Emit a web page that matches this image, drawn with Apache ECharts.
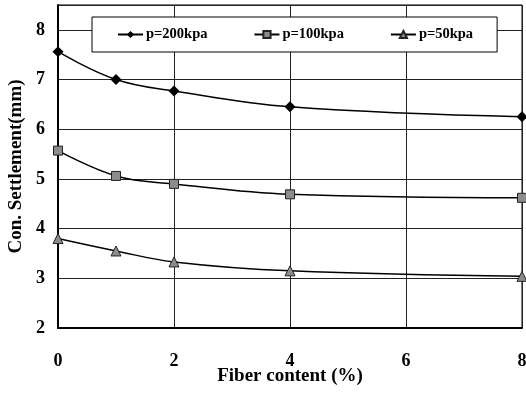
<!DOCTYPE html>
<html>
<head>
<meta charset="utf-8">
<script src="https://cdn.jsdelivr.net/npm/echarts@6/dist/echarts.min.js"></script>
<style>
  html, body { margin: 0; padding: 0; background: #fff; }
  #chart { width: 526px; height: 395px; }
</style>
</head>
<body>
<div id="chart"></div>
<script>
  var fiber = [0, 1, 2, 4, 8];
  var p200 = [7.56, 7.0, 6.77, 6.45, 6.25];
  var p100 = [5.57, 5.06, 4.9, 4.69, 4.62];
  var p50 = [3.80, 3.55, 3.33, 3.15, 3.04];
  var names = ['p=200kpa', 'p=100kpa', 'p=50kpa'];

  function pairs(ys) {
    return fiber.map(function (x, i) { return [x, ys[i]]; });
  }

  var font = '"Liberation Serif", "Times New Roman", serif';
  var chart = echarts.init(document.getElementById('chart'));
  var option = {
    animation: false,
    backgroundColor: '#fff',
    textStyle: { fontFamily: font },
    grid: {
      left: 58, right: 4, top: 5, bottom: 67,
      outerBoundsMode: 'none',
      show: true, borderColor: '#000', borderWidth: 1
    },
    legend: {
      left: 92, top: 17,
      padding: [10, 24, 10, 25],
      itemGap: 46,
      itemWidth: 25, itemHeight: 9,
      borderColor: '#000', borderWidth: 1,
      backgroundColor: '#fff',
      textStyle: { fontFamily: font, fontWeight: 'bold', fontSize: 14.5, color: '#000', padding: [0, 0, 0, -2] },
      data: names
    },
    xAxis: {
      type: 'value', min: 0, max: 8, interval: 2,
      name: 'Fiber content (%)', nameLocation: 'middle', nameGap: 39,
      nameMoveOverlap: false,
      nameTextStyle: { fontFamily: font, fontWeight: 'bold', fontSize: 19, color: '#000' },
      axisLine: { lineStyle: { color: '#000', width: 2 } },
      axisTick: { show: false },
      axisLabel: { margin: 24, fontFamily: font, fontWeight: 'bold', fontSize: 18, color: '#000' },
      splitLine: { show: true, lineStyle: { color: '#222', width: 1 } }
    },
    yAxis: {
      type: 'value', min: 2, max: 8.5, interval: 1,
      name: 'Con. Settlement(mm)', nameLocation: 'middle', nameGap: 32,
      nameMoveOverlap: false,
      nameTextStyle: { fontFamily: font, fontWeight: 'bold', fontSize: 19, color: '#000' },
      axisLine: { show: true, lineStyle: { color: '#000', width: 2 } },
      axisTick: { show: false },
      axisLabel: {
        margin: 13, fontFamily: font, fontWeight: 'bold', fontSize: 18, color: '#000',
        formatter: function (v) { return v % 1 === 0 ? v : ''; }
      },
      splitLine: { show: true, lineStyle: { color: '#222', width: 1 } }
    },
    series: [
      {
        name: names[0], type: 'line', smooth: 0.4,
        symbol: 'diamond', symbolSize: 11,
        itemStyle: { color: '#000' },
        lineStyle: { color: '#000', width: 1.5 },
        data: pairs(p200)
      },
      {
        name: names[1], type: 'line', smooth: 0.4,
        symbol: 'rect', symbolSize: 9,
        itemStyle: { color: '#8c8c8c', borderColor: '#222', borderWidth: 1 },
        lineStyle: { color: '#000', width: 1.5 },
        data: pairs(p100)
      },
      {
        name: names[2], type: 'line', smooth: 0.4,
        symbol: 'triangle', symbolSize: 10,
        itemStyle: { color: '#8c8c8c', borderColor: '#222', borderWidth: 1 },
        lineStyle: { color: '#000', width: 1.5 },
        data: pairs(p50)
      }
    ]
  };
  chart.setOption(option);
</script>
</body>
</html>
